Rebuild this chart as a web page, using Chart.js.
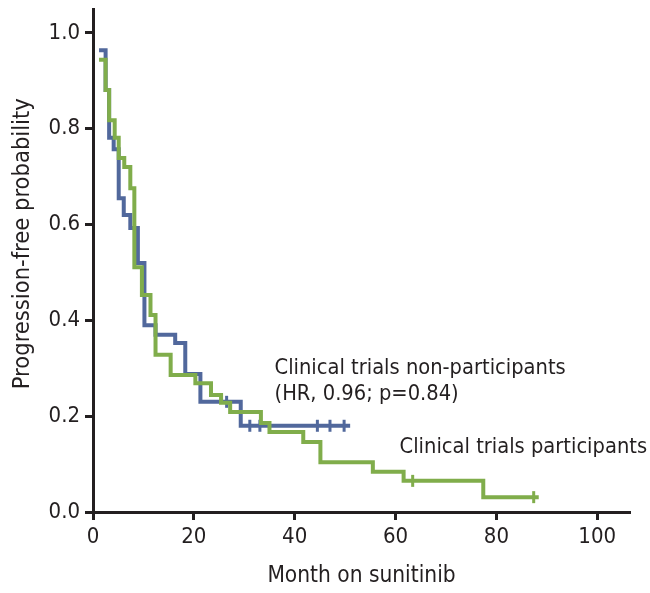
<!DOCTYPE html>
<html lang="en">
<head>
    <meta charset="UTF-8">
    <title>Progression-free probability</title>
    <script src="https://cdn.jsdelivr.net/npm/chart.js"></script>
    <style>
        html, body { margin: 0; padding: 0; background: #fff; }
        #wrap { width: 650px; height: 593px; position: relative; }
    </style>
</head>
<body>
    <div id="wrap">
        <canvas id="pfsChart"></canvas>
    </div>

    <script>
        // Kaplan-Meier steps (month of drop, probability after drop)
        const nonPartMonths = [1.2, 2.5, 3.2, 4.1, 5.1, 6.1, 7.4, 8.9, 10.2, 12.4, 16.3, 18.3, 21.3, 29.3, 51.0];
        const nonPartProb   = [0.964, 0.881, 0.781, 0.757, 0.655, 0.62, 0.593, 0.52, 0.39, 0.37, 0.353, 0.288, 0.23, 0.18, 0.18];
        const nonPartCensorMonths = [26.5, 31.1, 33.1, 44.5, 47.0, 49.8];
        const nonPartCensorProb   = [0.23, 0.18, 0.18, 0.18, 0.18, 0.18];

        const partMonths = [1.2, 2.5, 3.2, 4.3, 5.1, 6.2, 7.4, 8.2, 9.7, 11.4, 12.4, 15.4, 20.3, 23.4, 25.4, 27.2, 33.3, 35.0, 41.7, 45.1, 55.5, 61.6, 77.4, 88.4];
        const partProb   = [0.944, 0.881, 0.818, 0.781, 0.739, 0.72, 0.676, 0.511, 0.453, 0.411, 0.328, 0.286, 0.269, 0.244, 0.228, 0.209, 0.186, 0.167, 0.146, 0.104, 0.084, 0.065, 0.031, 0.031];
        const partCensorMonths = [63.4, 87.4];
        const partCensorProb   = [0.065, 0.031];

        const xTicks = [0, 20, 40, 60, 80, 100];
        const yTicks = [0, 0.2, 0.4, 0.6, 0.8, 1.0];

        const yTitle = 'Progression-free probability';
        const notes = [
            { text: 'Clinical trials non-participants', x: 36, y: 0.300 },
            { text: '(HR, 0.96; p=0.84)', x: 36, y: 0.246 },
            { text: 'Clinical trials participants', x: 60.8, y: 0.134 }
        ];

        const BLUE = '#51689c';
        const GREEN = '#80ad4b';
        const INK = '#231f20';
        const FONT = '"Liberation Sans Narrow", "DejaVu Sans Condensed", Arial, sans-serif';

        const toPoints = (xs, ys) => xs.map((x, i) => ({ x: x, y: ys[i] }));

        // annotations and the y title (placed a bit above the axis centre, as in the figure)
        const notePlugin = {
            id: 'notes',
            afterDatasetsDraw(chart) {
                const ctx = chart.ctx;
                const xs = chart.scales.x, ys = chart.scales.y;
                ctx.save();
                ctx.fillStyle = INK;
                ctx.font = '21.7px ' + FONT;
                ctx.textBaseline = 'middle';
                ctx.textAlign = 'left';
                notes.forEach(n => ctx.fillText(n.text, xs.getPixelForValue(n.x), ys.getPixelForValue(n.y)));

                ctx.font = '23.5px ' + FONT;
                ctx.textAlign = 'center';
                ctx.translate(23, ys.getPixelForValue(0.56));
                ctx.rotate(-Math.PI / 2);
                ctx.fillText(yTitle, 0, 0);
                ctx.restore();
            }
        };

        const ctx = document.getElementById('pfsChart').getContext('2d');
        new Chart(ctx, {
            type: 'line',
            data: {
                datasets: [
                    {
                        label: 'Clinical trials participants',
                        data: toPoints(partMonths, partProb),
                        borderColor: GREEN,
                        borderWidth: 4,
                        stepped: true,
                        pointRadius: 0,
                        fill: false
                    },
                    {
                        label: 'participants censored',
                        data: toPoints(partCensorMonths, partCensorProb),
                        showLine: false,
                        pointStyle: 'line',
                        rotation: 90,
                        pointRadius: 6,
                        borderColor: GREEN,
                        borderWidth: 3
                    },
                    {
                        label: 'Clinical trials non-participants',
                        data: toPoints(nonPartMonths, nonPartProb),
                        borderColor: BLUE,
                        borderWidth: 4,
                        stepped: true,
                        pointRadius: 0,
                        fill: false
                    },
                    {
                        label: 'non-participants censored',
                        data: toPoints(nonPartCensorMonths, nonPartCensorProb),
                        showLine: false,
                        pointStyle: 'line',
                        rotation: 90,
                        pointRadius: 6,
                        borderColor: BLUE,
                        borderWidth: 3
                    }
                ]
            },
            options: {
                responsive: true,
                maintainAspectRatio: false,
                animation: false,
                layout: { padding: { top: 8, right: 20, left: 0, bottom: 0 } },
                plugins: {
                    legend: { display: false },
                    tooltip: { enabled: false }
                },
                scales: {
                    x: {
                        type: 'linear',
                        min: 0,
                        max: 106.5,
                        afterBuildTicks: s => { s.ticks = xTicks.map(v => ({ value: v })); },
                        afterFit: s => { s.height = 81; s.paddingLeft = 0; s.paddingRight = 0; },
                        border: { color: INK, width: 3 },
                        grid: { drawOnChartArea: false, tickLength: 8, tickColor: INK, tickWidth: 3 },
                        ticks: { color: INK, font: { family: FONT, size: 22 }, padding: 4, maxRotation: 0 },
                        title: { display: true, text: 'Month on sunitinib', color: INK, font: { family: FONT, size: 22.5 }, padding: { top: 0, bottom: 3 } }
                    },
                    y: {
                        type: 'linear',
                        min: 0,
                        max: 1.05,
                        afterBuildTicks: s => { s.ticks = yTicks.map(v => ({ value: v })); },
                        afterFit: s => { s.width = 93; s.paddingTop = 0; s.paddingBottom = 0; },
                        border: { color: INK, width: 3 },
                        grid: { drawOnChartArea: false, tickLength: 8, tickColor: INK, tickWidth: 3 },
                        ticks: { color: INK, font: { family: FONT, size: 22 }, padding: 5, callback: v => v.toFixed(1) },
                        title: { display: false }
                    }
                }
            },
            plugins: [notePlugin]
        });
    </script>
</body>
</html>
